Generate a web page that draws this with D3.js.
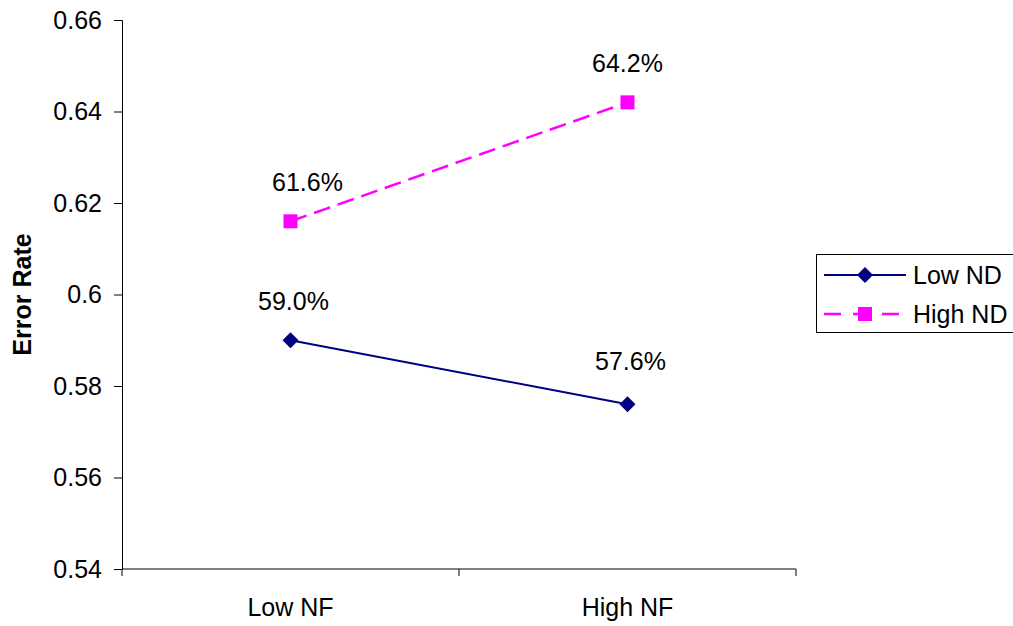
<!DOCTYPE html>
<html>
<head>
<meta charset="utf-8">
<script src="https://cdn.jsdelivr.net/npm/d3@7"></script>
<style>
  html, body { margin: 0; padding: 0; background: #fff; }
  svg { display: block; font-family: Arial, "Liberation Sans", sans-serif; }
</style>
</head>
<body>
<svg id="chart" width="1013" height="626"></svg>
<script>
// Error rate by NF level, split by ND group
const categories = ["Low NF", "High NF"];
const lowND = [0.590, 0.576];
const highND = [0.616, 0.642];
const lowNDLabels = ["59.0%", "57.6%"];
const highNDLabels = ["61.6%", "64.2%"];
const yTicks = [0.54, 0.56, 0.58, 0.6, 0.62, 0.64, 0.66];
const seriesNames = ["Low ND", "High ND"];

const svg = d3.select("#chart");
const plot = { left: 122, right: 796, top: 20, bottom: 569 };

const x = d3.scaleBand().domain(categories).range([plot.left, plot.right]);
const y = d3.scaleLinear().domain([0.54, 0.66]).range([plot.bottom, plot.top]);
const cx = d => x(d) + x.bandwidth() / 2;

// Y axis
const yAxis = d3.axisLeft(y).tickValues(yTicks).tickSize(8).tickPadding(12)
  .tickFormat(d => String(+d.toFixed(2)));
const gy = svg.append("g").attr("transform", `translate(${plot.left},0)`).call(yAxis);
gy.select(".domain").attr("stroke", "#000").attr("stroke-width", 1);
gy.selectAll(".tick line").attr("stroke", "#000");
gy.selectAll(".tick text").attr("font-size", 25).attr("fill", "#000")
  .attr("font-family", "Arial, 'Liberation Sans', sans-serif");

// X axis with ticks at band boundaries
const gx = svg.append("g").attr("transform", `translate(0,${plot.bottom})`);
gx.append("line").attr("x1", plot.left).attr("x2", plot.right).attr("stroke", "#000");
const bounds = [plot.left].concat(categories.map(c => x(c) + x.bandwidth()));
gx.selectAll("line.tk").data(bounds).join("line").attr("class", "tk")
  .attr("x1", d => d).attr("x2", d => d).attr("y1", 0).attr("y2", 7).attr("stroke", "#000");
gx.selectAll("text").data(categories).join("text")
  .attr("x", d => cx(d)).attr("y", 47).attr("text-anchor", "middle")
  .attr("font-size", 25).text(d => d);

// Axis title
svg.append("text").attr("transform", `translate(31,${(plot.top + plot.bottom) / 2}) rotate(-90)`)
  .attr("text-anchor", "middle").attr("font-size", 25).attr("font-weight", "bold")
  .text("Error Rate");

const line = d3.line().x((d, i) => cx(categories[i])).y(d => y(d));

// High ND series (dashed magenta, square markers)
svg.append("path").datum(highND).attr("d", line).attr("fill", "none")
  .attr("stroke", "#FF00FF").attr("stroke-width", 2.5).attr("stroke-dasharray", "17,8");
svg.selectAll("rect.hi").data(highND).join("rect").attr("class", "hi")
  .attr("x", (d, i) => cx(categories[i]) - 7).attr("y", d => y(d) - 7)
  .attr("width", 14).attr("height", 14).attr("fill", "#FF00FF");

// Low ND series (solid navy, diamond markers)
svg.append("path").datum(lowND).attr("d", line).attr("fill", "none")
  .attr("stroke", "#000080").attr("stroke-width", 2);
const diamond = "M0,-8L8,0L0,8L-8,0Z";
svg.selectAll("path.lo").data(lowND).join("path").attr("class", "lo")
  .attr("d", diamond).attr("fill", "#000080")
  .attr("transform", (d, i) => `translate(${cx(categories[i])},${y(d)})`);

// Value labels
const hiOffsets = [17, 0];
const loOffsets = [3, 3];
svg.selectAll("text.hil").data(highND).join("text").attr("class", "hil")
  .attr("x", (d, i) => cx(categories[i]) + hiOffsets[i]).attr("y", d => y(d) - 30)
  .attr("text-anchor", "middle").attr("font-size", 25).text((d, i) => highNDLabels[i]);
svg.selectAll("text.lol").data(lowND).join("text").attr("class", "lol")
  .attr("x", (d, i) => cx(categories[i]) + loOffsets[i]).attr("y", (d, i) => i === 0 ? y(d) - 30 : y(d) - 34)
  .attr("text-anchor", "middle").attr("font-size", 25).text((d, i) => lowNDLabels[i]);

// Legend
const lg = svg.append("g");
lg.append("rect").attr("x", 816.5).attr("y", 254.5).attr("width", 210).attr("height", 78)
  .attr("fill", "#fff").attr("stroke", "#000").attr("stroke-width", 1);
const rows = [275, 314];
// Low ND entry
lg.append("line").attr("x1", 824).attr("x2", 906).attr("y1", rows[0]).attr("y2", rows[0])
  .attr("stroke", "#000080").attr("stroke-width", 2);
lg.append("path").attr("d", diamond).attr("fill", "#000080").attr("transform", `translate(865,${rows[0]})`);
// High ND entry
lg.append("line").attr("x1", 824).attr("x2", 906).attr("y1", rows[1]).attr("y2", rows[1])
  .attr("stroke", "#FF00FF").attr("stroke-width", 2.5).attr("stroke-dasharray", "17,12");
lg.append("rect").attr("x", 858).attr("y", rows[1] - 7).attr("width", 14).attr("height", 14).attr("fill", "#FF00FF");
lg.selectAll("text").data(seriesNames).join("text")
  .attr("x", 913).attr("y", (d, i) => rows[i] + 9).attr("font-size", 25).text(d => d);
</script>
</body>
</html>
